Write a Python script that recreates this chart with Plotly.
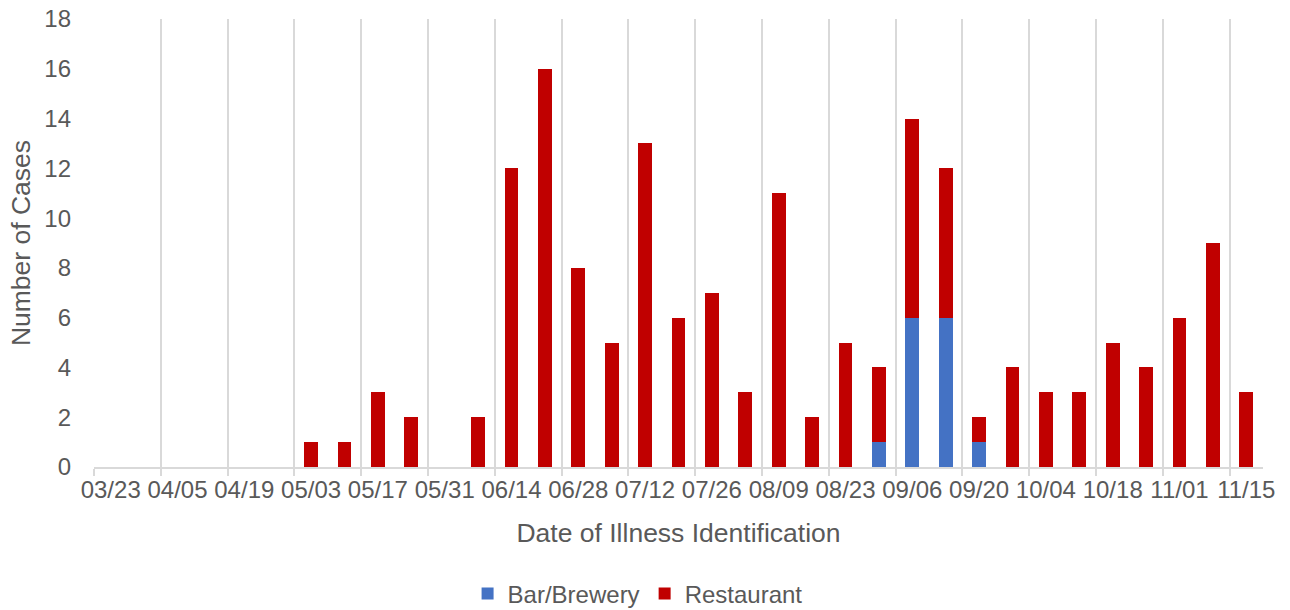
import plotly.graph_objects as go

weeks = ["03/23", "03/29", "04/05", "04/12", "04/19", "04/26", "05/03", "05/10",
         "05/17", "05/24", "05/31", "06/07", "06/14", "06/21", "06/28", "07/05",
         "07/12", "07/19", "07/26", "08/02", "08/09", "08/16", "08/23", "08/30",
         "09/06", "09/13", "09/20", "09/27", "10/04", "10/11", "10/18", "10/25",
         "11/01", "11/08", "11/15"]

bar_brewery = [0, 0, 0, 0, 0, 0, 0, 0, 0, 0, 0, 0, 0, 0, 0, 0, 0, 0, 0, 0,
               0, 0, 0, 1, 6, 6, 1, 0, 0, 0, 0, 0, 0, 0, 0]
restaurant = [0, 0, 0, 0, 0, 0, 1, 1, 3, 2, 0, 2, 12, 16, 8, 5, 13, 6, 7, 3,
              11, 2, 5, 3, 8, 6, 1, 4, 3, 3, 5, 4, 6, 9, 3]

y_ticks = list(range(0, 19, 2))

FONT = "Arial, 'Liberation Sans', sans-serif"
TEXT = "#595959"
GRID = "#d9d9d9"

fig = go.Figure()
fig.add_trace(go.Bar(x=weeks, y=bar_brewery, name="Bar/Brewery",
                     marker=dict(color="#4472C4", line=dict(width=0))))
fig.add_trace(go.Bar(x=weeks, y=restaurant, name="Restaurant",
                     marker=dict(color="#C00000", line=dict(width=0))))

fig.update_layout(
    width=1290, height=610,
    barmode="stack", bargap=0.59,
    plot_bgcolor="white", paper_bgcolor="white",
    margin=dict(l=94, r=27, t=19, b=143, autoexpand=False),
    font=dict(family=FONT, color=TEXT, size=24),
    showlegend=True,
    legend=dict(orientation="h", x=0.465, xanchor="center", y=-0.2835, yanchor="middle",
                font=dict(size=24, color=TEXT), traceorder="normal"),
)

fig.update_xaxes(
    type="category", tickmode="linear", tick0=0, dtick=2, tickangle=0,
    tickson="boundaries", showgrid=True, gridcolor=GRID, gridwidth=1.5,
    ticks="outside", ticklen=7, tickcolor=GRID, tickwidth=1.5,
    showline=True, linecolor=GRID, linewidth=1.5,
    tickfont=dict(size=24, color=TEXT), automargin=False,
    title=dict(text="Date of Illness Identification", font=dict(size=26.5, color=TEXT),
               standoff=22),
    range=[-0.5, 34.5],
)
fig.update_yaxes(
    range=[0, 18], tickvals=y_ticks, showgrid=False, zeroline=False,
    showline=False, ticks="", ticklabelstandoff=22, automargin=False,
    tickfont=dict(size=24, color=TEXT),
    title=dict(text="Number of Cases", font=dict(size=26.5, color=TEXT), standoff=6),
)

fig.write_html("out.html", config={"displayModeBar": False},
               post_script="document.body.style.margin='0px';document.body.style.overflow='hidden';")
